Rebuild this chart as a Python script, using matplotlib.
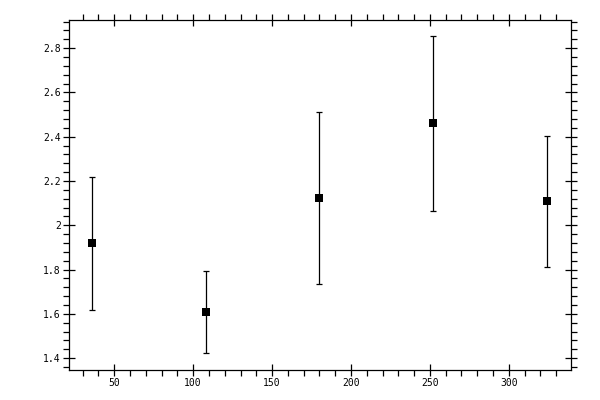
import matplotlib
matplotlib.use("Agg")
import matplotlib.pyplot as plt
from matplotlib.ticker import MultipleLocator, FuncFormatter

# values
x = [36, 108, 180, 252, 324]
y = [1.919, 1.607, 2.122, 2.460, 2.108]
err = [0.301, 0.185, 0.388, 0.395, 0.297]

fig = plt.figure(figsize=(6, 4), dpi=100)
ax = fig.add_axes([0.1155, 0.075, 0.8355, 0.876])

eb = ax.errorbar(x, y, yerr=err, fmt="s", color="black", ms=5.2,
                 elinewidth=0.9, capsize=2.5, capthick=0.9)
eb[0].set_markeredgewidth(0)

ax.set_xlim(21.5, 339.2)
ax.set_ylim(1.3467, 2.929)

ax.xaxis.set_major_locator(MultipleLocator(50))
ax.xaxis.set_minor_locator(MultipleLocator(10))
ax.yaxis.set_major_locator(MultipleLocator(0.2))
ax.yaxis.set_minor_locator(MultipleLocator(0.04))
ax.yaxis.set_major_formatter(FuncFormatter(lambda v, p: ("%.1f" % v).rstrip("0").rstrip(".")))

ax.tick_params(which="both", top=True, right=True, width=0.9, colors="black",
               labelsize=7)
ax.tick_params(which="major", direction="inout", length=8, pad=2)
ax.tick_params(which="minor", direction="out", length=4)
for lab in ax.get_xticklabels() + ax.get_yticklabels():
    lab.set_family("DejaVu Sans Mono")
for s in ax.spines.values():
    s.set_linewidth(0.9)

fig.savefig("out.png", dpi=100)
